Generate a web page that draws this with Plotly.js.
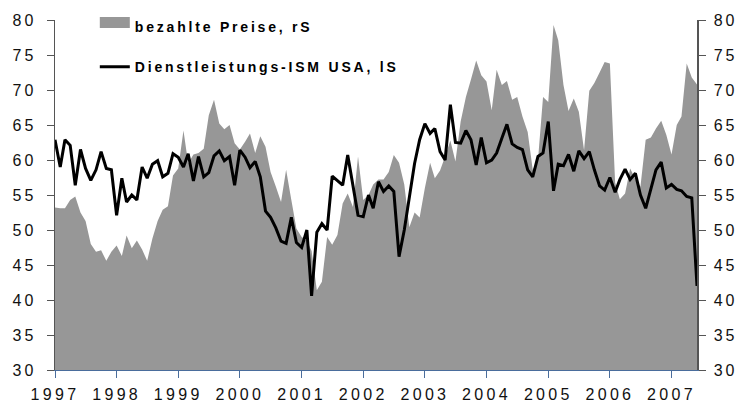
<!DOCTYPE html>
<html>
<head>
<meta charset="utf-8">
<script src="https://cdn.plot.ly/plotly-3.0.1.min.js"></script>
<style>
  html, body { margin: 0; padding: 0; background: #fff; }
  #chart { width: 739px; height: 414px; }
  .xtick text, .y2tick text { letter-spacing: 3.3px; }
  .ytick text { letter-spacing: 2.8px; }
  .legendtext { letter-spacing: 2.8px; }
  .legendfill path { transform: translateY(-4px) scaleY(1.8); }
</style>
</head>
<body>
<div id="chart"></div>
<script>
// ---- data (monthly, Jan 1997 - Jun 2007) ----
const startYear = 1997;
const tickYears = [1997, 1998, 1999, 2000, 2001, 2002, 2003, 2004, 2005, 2006, 2007];

// bezahlte Preise (prices paid), right scale
const prices = [
  53.2, 53.1, 53.1, 54.3, 54.8, 52.5, 51.3, 48.0, 46.9, 47.1, 45.6, 46.9,
  47.8, 46.3, 49.2, 47.4, 48.5, 47.2, 45.6, 48.8, 51.3, 52.9, 53.4, 57.8,
  58.8, 64.2, 59.5, 60.8, 61.0, 61.6, 66.4, 68.6, 65.2, 64.4, 65.0, 62.4,
  61.5, 62.6, 63.8, 61.0, 63.4, 61.9, 58.3, 56.2, 54.0, 58.6, 54.3, 50.2,
  49.0, 48.5, 47.0, 41.4, 42.6, 49.0, 47.9, 49.3, 53.8, 55.2, 53.3, 60.5,
  54.3, 55.0, 56.5, 57.2, 57.2, 58.3, 60.7, 59.6, 56.5, 50.4, 52.5, 51.8,
  56.0, 59.6, 57.4, 58.5, 60.5, 62.8, 59.8, 65.5, 69.0, 71.5, 74.2, 72.1,
  71.2, 67.1, 72.9, 70.7, 71.3, 68.6, 69.0, 66.2, 64.0, 58.6, 60.0, 69.0,
  68.3, 79.3, 77.1, 70.7, 67.0, 68.8, 66.9, 61.4, 69.9, 71.0, 72.5, 74.0,
  73.8, 56.8, 54.4, 55.2, 58.8, 57.3, 56.2, 62.9, 63.2, 64.5, 65.6, 63.6,
  60.8, 65.0, 66.2, 73.8, 71.8, 70.8
];

// Dienstleistungs-ISM USA, left scale
const ismServices = [
  62.9, 59.0, 62.9, 62.1, 56.4, 61.5, 58.8, 57.1, 58.6, 61.2, 58.8, 58.6,
  52.1, 57.4, 54.0, 55.0, 54.3, 59.0, 57.4, 59.4, 59.9, 57.6, 58.1, 60.9,
  60.4, 59.0, 60.9, 57.0, 60.5, 57.6, 58.2, 60.6, 61.3, 59.9, 60.5, 56.4,
  61.4, 60.4, 58.9, 59.8, 57.6, 52.7, 51.8, 50.3, 48.4, 48.1, 51.8, 48.2,
  47.5, 50.0, 40.6, 49.7, 50.9, 50.0, 57.7, 57.1, 56.4, 60.7, 56.4, 52.1,
  51.9, 55.0, 53.1, 56.9, 55.5, 56.3, 55.5, 46.2, 50.0, 54.5, 59.5, 62.9,
  65.2, 63.8, 64.5, 61.2, 60.0, 67.9, 62.5, 62.4, 64.2, 62.9, 59.3, 63.2,
  59.6, 60.0, 61.0, 63.1, 65.1, 62.3, 61.8, 61.5, 58.6, 57.6, 60.5, 61.0,
  65.5, 55.6, 59.4, 59.2, 60.8, 58.4, 61.3, 60.2, 61.2, 58.6, 56.3, 55.7,
  57.5, 55.4, 57.2, 58.7, 57.2, 58.1, 55.0, 53.1, 56.0, 58.6, 59.7, 56.0,
  56.5, 55.8, 55.6, 54.8, 54.6, 42.0
];

const seriesNames = ['bezahlte Preise, rS', 'Dienstleistungs-ISM USA, lS'];

// ---- build dates from month index ----
function monthDate(i) {
  const y = startYear + Math.floor(i / 12);
  const m = (i % 12) + 1;
  return y + '-' + (m < 10 ? '0' + m : m) + '-01';
}
const dates = prices.map((_, i) => monthDate(i));
const lastDate = dates[dates.length - 1];

const areaTrace = {
  type: 'scatter',
  x: dates,
  y: prices,
  name: seriesNames[0],
  mode: 'none',
  fill: 'tozeroy',
  fillcolor: '#979797',
  yaxis: 'y',
  legendgroup: 'a',
  hoverinfo: 'skip'
};

const lineTrace = {
  type: 'scatter',
  x: dates,
  y: ismServices,
  name: seriesNames[1],
  mode: 'lines',
  line: { color: '#000000', width: 3 },
  yaxis: 'y2',
  legendgroup: 'b',
  hoverinfo: 'skip'
};

const tickFont = { family: 'Liberation Sans, Arial, sans-serif', size: 16, color: '#111111' };

const layout = {
  width: 739,
  height: 414,
  margin: { l: 55, r: 42, t: 20, b: 44, autoexpand: false },
  paper_bgcolor: '#ffffff',
  plot_bgcolor: '#ffffff',
  showlegend: true,
  legend: {
    x: 0.062, xanchor: 'left',
    y: 1.026, yanchor: 'top',
    bgcolor: 'rgba(0,0,0,0)',
    borderwidth: 0,
    tracegroupgap: 19,
    font: { family: 'Liberation Sans, Arial, sans-serif', size: 14, color: '#000000', weight: 'bold' },
    itemclick: false,
    itemdoubleclick: false
  },
  xaxis: {
    type: 'date',
    range: [dates[0], lastDate],
    tickmode: 'array',
    tickvals: tickYears.map(y => y + '-01-01'),
    ticktext: tickYears.map(String),
    ticks: 'outside',
    ticklen: 7,
    tickwidth: 1,
    tickcolor: '#4a6d9c',
    showline: true,
    linecolor: '#4a6d9c',
    linewidth: 1,
    showgrid: false,
    zeroline: false,
    tickfont: tickFont,
    ticklabelstandoff: 3,
    fixedrange: true
  },
  // area (bezahlte Preise) belongs to the right scale
  yaxis: {
    side: 'right',
    anchor: 'x',
    range: [30, 80],
    dtick: 5,
    tick0: 30,
    ticks: 'outside',
    ticklen: 7,
    tickcolor: '#555555',
    showline: true,
    linecolor: '#555555',
    linewidth: 1.5,
    showgrid: false,
    zeroline: false,
    tickfont: tickFont,
    ticklabelstandoff: 5,
    fixedrange: true
  },
  // ISM line belongs to the left scale
  yaxis2: {
    side: 'left',
    overlaying: 'y',
    anchor: 'x',
    range: [30, 80],
    dtick: 5,
    tick0: 30,
    ticks: 'outside',
    ticklen: 7,
    tickcolor: '#555555',
    showline: true,
    linecolor: '#555555',
    linewidth: 1,
    showgrid: false,
    zeroline: false,
    tickfont: tickFont,
    ticklabelstandoff: 7,
    fixedrange: true
  }
};

Plotly.newPlot('chart', [areaTrace, lineTrace], layout, { displayModeBar: false, staticPlot: true });
</script>
</body>
</html>
